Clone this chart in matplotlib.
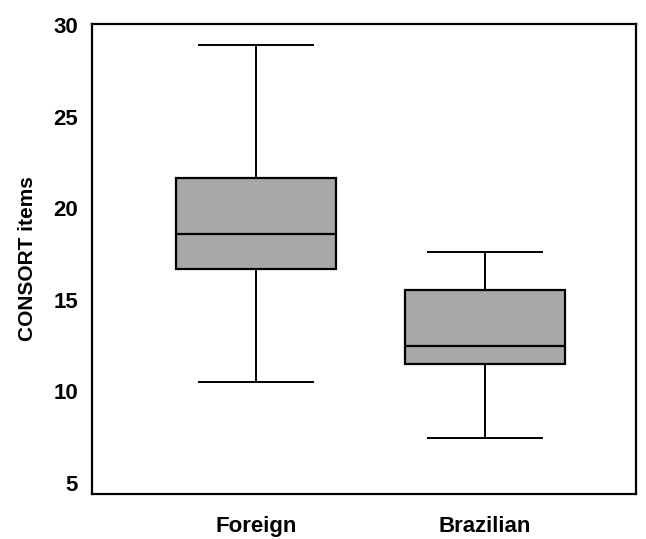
import matplotlib
matplotlib.use("Agg")
import matplotlib.pyplot as plt

groups = ["Foreign", "Brazilian"]
whisker_low = [10.5, 7.45]
q1 = [16.7, 11.5]
median = [18.6, 12.45]
q3 = [21.65, 15.55]
whisker_high = [28.9, 17.6]

plt.rcParams['font.family'] = ['DejaVu Sans Condensed', 'Liberation Sans Narrow', 'Liberation Sans']
plt.rcParams['font.weight'] = 'bold'

fig = plt.figure(figsize=(6.46, 5.39), dpi=100)
ax = fig.add_axes([0.1424, 0.0835, 0.842, 0.872])

stats = []
for i, g in enumerate(groups):
    stats.append(dict(label=g, whislo=whisker_low[i], q1=q1[i], med=median[i],
                      q3=q3[i], whishi=whisker_high[i], fliers=[]))

ax.bxp(stats, positions=[1, 2], widths=0.70, patch_artist=True, showfliers=False,
       boxprops=dict(facecolor='#a8a8a8', edgecolor='black', linewidth=1.6),
       medianprops=dict(color='black', linewidth=1.6),
       whiskerprops=dict(color='black', linewidth=1.4),
       capprops=dict(color='black', linewidth=1.4),
       capwidths=0.50)

ax.set_xlim(0.284, 2.66)
ax.set_ylim(4.4, 30.05)
ax.set_yticks([5, 10, 15, 20, 25, 30])
ax.tick_params(axis='both', length=0, labelsize=16)
ax.tick_params(axis='y', pad=10)
ax.tick_params(axis='x', pad=16)
for s in ax.spines.values():
    s.set_linewidth(1.6)
ax.set_ylabel('CONSORT items', fontsize=15, fontweight='bold', labelpad=12)

fig.savefig('out.png', dpi=100)
